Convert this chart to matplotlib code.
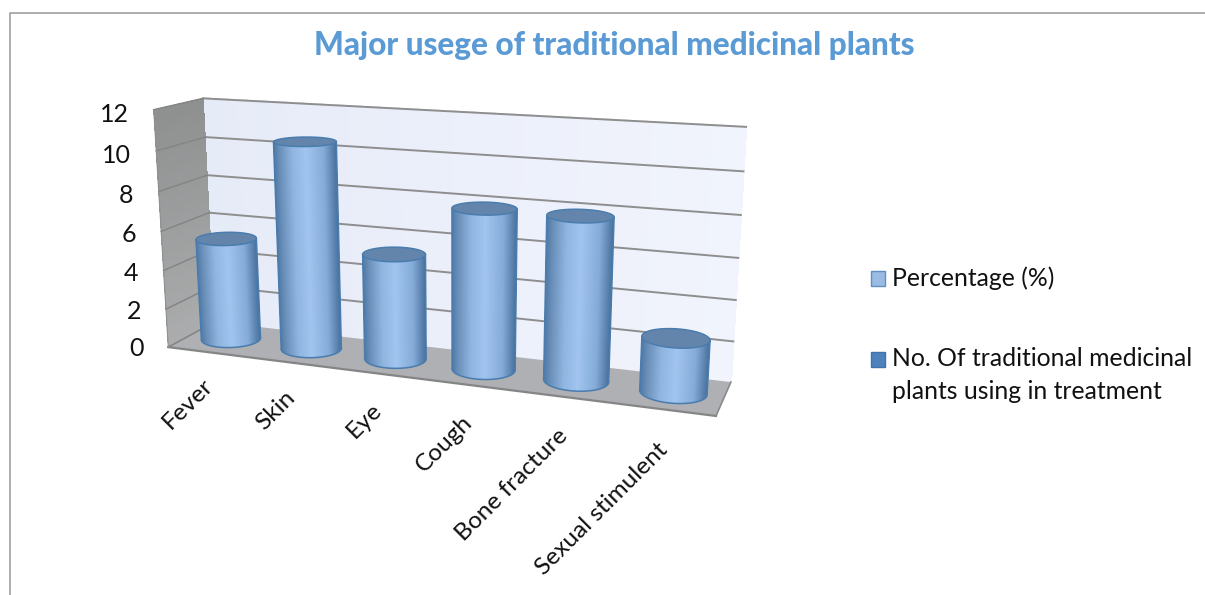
import numpy as np
import matplotlib
matplotlib.use('Agg')
import matplotlib.pyplot as plt
from matplotlib.collections import PolyCollection
from matplotlib.colors import to_rgb
from matplotlib.patches import Polygon

title = 'Major usege of traditional medicinal plants'
categories = ['Fever', 'Skin', 'Eye', 'Cough', 'Bone fracture', 'Sexual stimulent']
percentage = [5.3, 10.5, 5.3, 7.9, 7.9, 2.6]
y_ticks = [0, 2, 4, 6, 8, 10, 12]
legend_labels = ['Percentage (%)', 'No. Of traditional medicinal\nplants using in treatment']

plt.rcParams['font.family'] = ['Lato', 'DejaVu Sans']

# chart box corners as seen on screen: (x, depth, value/12) -> pixel
box_in = [(0, 0, 0), (0, 1, 0), (1, 1, 0), (1, 0, 0), (0, 0, 1), (0, 1, 1), (1, 1, 1)]
box_px = [(169, 346), (214, 323), (731, 381), (716, 417), (153, 110), (204, 98), (746, 127)]

# fit a camera matrix to the corners
A, b = [], []
for (x, d, v), (u, w) in zip(box_in, box_px):
    A.append([x, d, v, 1, 0, 0, 0, 0, -u*x, -u*d, -u*v])
    b.append(u)
    A.append([0, 0, 0, 0, x, d, v, 1, -w*x, -w*d, -w*v])
    b.append(w)
m = np.linalg.lstsq(np.array(A, float), np.array(b, float), rcond=None)[0]
P = np.append(m, 1).reshape(3, 4)


def proj(x, d, v):
    x, d, v = np.broadcast_arrays(x, d, np.asarray(v) / 12)
    q = P @ np.array([x, d, v, np.ones_like(x)], float)
    return q[0] / q[2], q[1] / q[2]


def blend(c1, c2, t):
    return tuple(np.array(to_rgb(c1)) * (1 - t) + np.array(to_rgb(c2)) * t)


def mix(t):
    stops = [0, .1, .3, .52, .8, .93, 1]
    cols = np.array([to_rgb(c) for c in ['#4d78a5', '#6a90ba', '#8fb5e0', '#a1c5ef',
                                         '#85abd8', '#6087b3', '#4a74a0']])
    return [np.interp(t, stops, cols[:, i]) for i in range(3)]


fig = plt.figure(figsize=(12.05, 5.95), dpi=100)
ax = fig.add_axes([0, 0, 1, 1])
ax.set_xlim(0, 1205)
ax.set_ylim(595, 0)
ax.axis('off')

# outer frame, open on the right and at the bottom
ax.plot([9.5, 9.5, 1205], [595, 12.5, 12.5], color='#a0a0a0', lw=1.2)

ax.text(614, 46, title, color='#5b9bd5', fontsize=22.7, fontweight='black', ha='center', va='center')

# back wall, lighter to the right
steps = np.linspace(0, 1, 41)
polys, cols = [], []
for a, c in zip(steps[:-1], steps[1:]):
    x1, y1 = proj(np.array([a, c, c, a]), 1, np.array([0, 0, 12, 12]))
    polys.append(np.column_stack([x1, y1]))
    cols.append(blend('#e6ebf8', '#f1f4fc', a))
ax.add_collection(PolyCollection(polys, facecolors=cols, edgecolors='face', linewidths=1,
                                 antialiaseds=False))

# side wall, darker to the top
polys, cols = [], []
for a, c in zip(steps[:-1], steps[1:]):
    x1, y1 = proj(0, np.array([0, 1, 1, 0]), np.array([a, a, c, c]) * 12)
    polys.append(np.column_stack([x1, y1]))
    cols.append(blend('#abacad', '#8e9090', a))
ax.add_collection(PolyCollection(polys, facecolors=cols, edgecolors='none', linewidths=0,
                                 antialiaseds=False))

xf, yf = proj(np.array([0, 1, 1, 0]), np.array([0, 0, 1, 1]), 0)
ax.fill(xf, yf, color='#aeb0b4', lw=0)

for t in y_ticks[1:]:
    xg, yg = proj(np.array([0, 1]), 1, t)
    ax.plot(xg, yg, color='#8e8e8e', lw=1.4, zorder=2)
    xg, yg = proj(0, np.array([0, 1]), t)
    ax.plot(xg, yg, color='#858585', lw=1.1, zorder=2)

xg, yg = proj(np.array([0, 1]), 0, 0)
ax.plot(xg, yg, color='#858585', lw=1.6, zorder=2)
xg, yg = proj(1, np.array([0, 1]), 0)
ax.plot(xg, yg, color='#8a8a8a', lw=1.2, zorder=2)
xg, yg = proj(0, np.array([0, 1]), 0)
ax.plot(xg, yg, color='#858585', lw=1.2, zorder=2)
xg, yg = proj(0, 0, np.array([0, 12]))
ax.plot(xg, yg, color='#909090', lw=.8, zorder=2)

# cylinders
n = len(categories)
rx, rd = 0.333 / n, 0.31
edge = '#4a7cae'
ang = np.linspace(0, 2 * np.pi, 361)[:-1]
for i, val in enumerate(percentage):
    px = (i + .5) / n + rx * np.cos(ang)
    pd = .5 + rd * np.sin(ang)
    xa, ya = proj(px, pd, 0)
    xt, yt = proj(px, pd, val)

    # silhouette points: leftmost to rightmost along the front of each ring
    il, ir = xa.argmin(), xa.argmax()
    arc = np.arange(il, ir + (360 if ir < il else 0) + 1) % 360
    il2, ir2 = xt.argmin(), xt.argmax()
    arc2 = np.arange(il2, ir2 + (360 if ir2 < il2 else 0) + 1) % 360
    body = np.column_stack([np.r_[xa[arc], xt[arc2][::-1]], np.r_[ya[arc], yt[arc2][::-1]]])
    outline = Polygon(body, closed=True, fc='none', ec='none', transform=ax.transData)
    ax.add_patch(outline)

    polys, cols = [], []
    for j in range(len(arc) - 1):
        k, k2 = arc[j], arc[j + 1]
        polys.append([(xa[k], ya[k]), (xa[k2], ya[k2]), (xt[k2], yt[k2]), (xt[k], yt[k])])
        cols.append(mix((xa[k] - xa[il]) / (xa[ir] - xa[il])))
    pc = PolyCollection(polys, facecolors=cols, edgecolors='face', linewidths=.5, zorder=3)
    ax.add_collection(pc)
    pc.set_clip_path(outline)

    ax.plot(xa[arc], ya[arc], color=edge, lw=1.1, zorder=4)
    ax.plot([xa[il], xt[il2]], [ya[il], yt[il2]], color=edge, lw=1.1, zorder=4)
    ax.plot([xa[ir], xt[ir2]], [ya[ir], yt[ir2]], color=edge, lw=1.1, zorder=4)
    ax.fill(xt, yt, color='#6485ab', lw=0, zorder=4)
    ax.plot(np.r_[xt, xt[0]], np.r_[yt, yt[0]], color=edge, lw=1.1, zorder=5)

# axis labels
for t in y_ticks:
    xl, yl = proj(0, 0, t)
    ax.text(xl - 25, yl + 1.5 + .3 * t, str(t), fontsize=18, ha='right', va='center', color='#111111')

for i, c in enumerate(categories):
    xl, yl = proj((i + .5) / n, 0, 0)
    ax.text(xl + 1, yl + 30 + 1.5 * i, c, fontsize=17.6, rotation=45, rotation_mode='anchor',
            ha='right', va='center', color='#111111')

# legend
swatches = [('#9abbe3', '#5f8fc0', 278.5), ('#4f81bd', '#3f74a8', 359.5)]
text_y = [278, 375]
for (fc, ec, y), lab, ty in zip(swatches, legend_labels, text_y):
    ax.fill([870.5, 885, 885, 870.5], [y-7.5, y-7.5, y+7.5, y+7.5], fc=fc, ec=ec, lw=1)
    ax.text(892, ty, lab, fontsize=17.8, ha='left', va='center', color='#111111', linespacing=1.5)

fig.savefig('out.png', dpi=100)
